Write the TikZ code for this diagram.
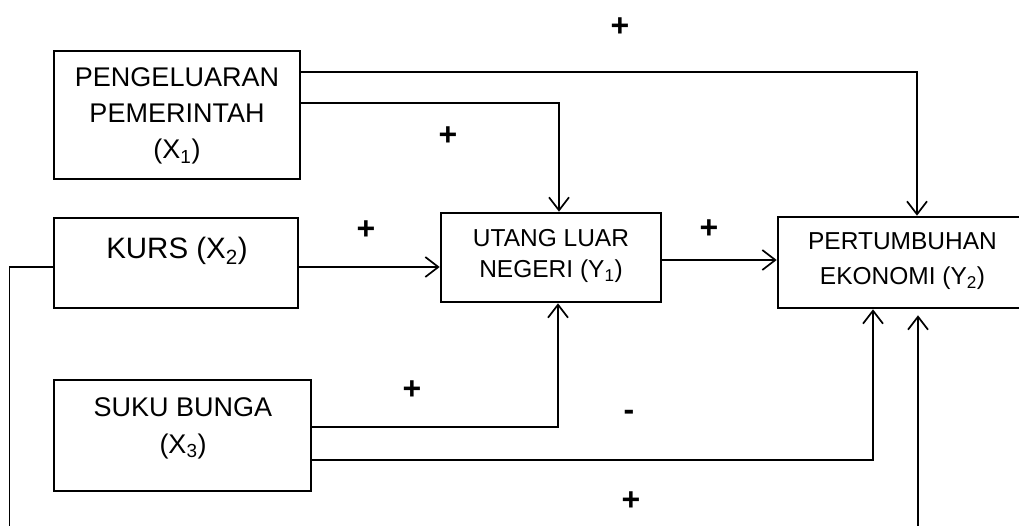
\documentclass[tikz,border=0pt]{standalone}
\usepackage{fontspec}
\setmainfont{Liberation Sans}
\usetikzlibrary{arrows.meta}
\begin{document}
\begin{tikzpicture}[x=1pt,y=-1pt,
  box/.style={draw, line width=2.6pt, inner sep=0pt},
  conn/.style={line width=1.7pt},
  arr/.style={conn, -{Straight Barb[length=13pt,width=20pt]}},
  sign/.style={font=\fontsize{32}{32}\selectfont\bfseries, inner sep=0pt},
  lbl/.style={align=center, inner sep=0pt}]
\useasboundingbox (0,0) rectangle (1019,525);
\clip (0,0) rectangle (1019,525);
% boxes
\node[box, minimum width=246pt, minimum height=128pt] (x1) at (177,115) {};
\node[box, minimum width=244pt, minimum height=90pt] (x2) at (176,263) {};
\node[box, minimum width=220pt, minimum height=89pt] (y1) at (551,257.5) {};
\node[box, minimum width=262pt, minimum height=91pt] (y2) at (909,262.5) {};
\node[box, minimum width=257pt, minimum height=111pt] (x3) at (182.5,435.5) {};
% texts
\node[lbl, font=\fontsize{27}{36}\selectfont] (x1t) at (177,116) {PENGELUARAN\\PEMERINTAH\\(X\textsubscript{1})};
\node[lbl, font=\fontsize{29.5}{36}\selectfont] (x2t) at (177,251) {KURS (X\textsubscript{2})};
\node[lbl, font=\fontsize{24.5}{31}\selectfont] (y1t) at (551,256) {UTANG LUAR\\NEGERI (Y\textsubscript{1})};
\node[lbl, font=\fontsize{24.5}{35}\selectfont] (y2t) at (902.5,261) {PERTUMBUHAN\\EKONOMI (Y\textsubscript{2})};
\node[lbl, font=\fontsize{27}{37}\selectfont] (x3t) at (183,428) {SUKU BUNGA\\(X\textsubscript{3})};
% routing coordinates
\coordinate (pA) at (917,72);
\coordinate (pB) at (559,103);
\coordinate (pC) at (0,267);
\coordinate (pD) at (0,260);
\coordinate (pE) at (558,427);
\coordinate (pF) at (873,460);
\coordinate (pG) at (918,535);
\coordinate (pH) at (9.5,535);
% connectors
\draw[arr] (x1.east |- pA) -| (y2.north -| pA);
\draw[arr] (x1.east |- pB) -| (y1.north -| pB);
\draw[arr] (x2.east |- pC) -- (y1.west |- pC);
\draw[arr] (y1.east |- pD) -- (y2.west |- pD);
\draw[arr] (x3.east |- pE) -| (y1.south -| pE);
\draw[arr] (x3.east |- pF) -| (y2.south -| pF);
\draw[arr, shorten >=6pt] (pG) -- (y2.south -| pG);
\draw[conn] (x2.west |- pC) -| (pH);
% signs
\node[sign] (s1) at (620,27) {+};
\node[sign] (s2) at (448,136) {+};
\node[sign] (s3) at (366,230) {+};
\node[sign] (s4) at (709,229) {+};
\node[sign] (s5) at (412,390) {+};
\node[sign] (s6) at (629,415) {-};
\node[sign] (s7) at (631,501) {+};
\end{tikzpicture}
\end{document}
